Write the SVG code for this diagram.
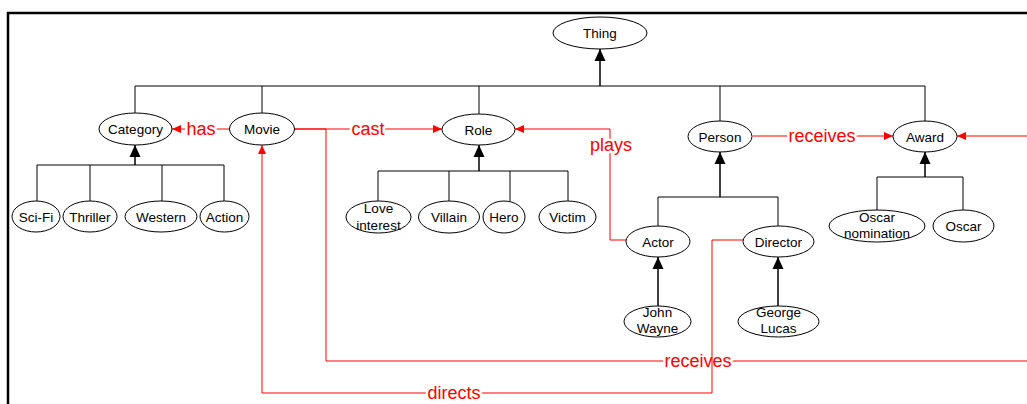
<svg xmlns="http://www.w3.org/2000/svg" width="1027" height="404" viewBox="0 0 1027 404">
<style>
.n ellipse{fill:#fff;stroke:#000;stroke-width:1}
.n text{font-family:"Liberation Sans",Arial,sans-serif;font-size:13.5px;fill:#000;text-anchor:middle}
.h{fill:none;stroke:#000;stroke-width:1}
.ha{fill:none;stroke:#000;stroke-width:1.5;marker-end:url(#ab)}
.r{fill:none;stroke:#f00;stroke-width:1;marker-end:url(#ar)}
.lbl{font-family:"Liberation Sans",Arial,sans-serif;font-size:18px;fill:#f00;text-anchor:middle;stroke:#fff;stroke-width:5;paint-order:stroke;stroke-linejoin:round}
</style>
<defs>
<marker id="ab" markerUnits="userSpaceOnUse" markerWidth="12" markerHeight="12" viewBox="0 0 12 12" refX="12" refY="6" orient="auto"><path d="M0,0.5 L12,6 L0,11.5 z" fill="#000"/></marker>
<marker id="ar" markerUnits="userSpaceOnUse" markerWidth="9" markerHeight="8" viewBox="0 0 9 8" refX="9" refY="4" orient="auto"><path d="M0,0 L9,4 L0,8 z" fill="#f00"/></marker>
</defs>
<rect x="8" y="13" width="1040" height="410" fill="none" stroke="#000" stroke-width="2.5"/>
<g id="connectors">
<path class="h" d="M135,113 V86 H925 V121 M262,86 V113 M479,86 V114 M720,86 V121"/>
<path class="ha" d="M600,86 V49"/>
<path class="h" d="M37,201 V165 H224 V201 M90,165 V201 M162,165 V201"/>
<path class="ha" d="M135,165 V145"/>
<path class="h" d="M378,201 V171 H568 V201 M449,171 V201 M510,171 V201"/>
<path class="ha" d="M479,171 V145"/>
<path class="h" d="M658,226 V197 H778 V226"/>
<path class="ha" d="M720,197 V152"/>
<path class="h" d="M877,210 V177 H963 V210"/>
<path class="ha" d="M925,177 V152"/>
<path class="ha" d="M658,306 V257"/>
<path class="ha" d="M778,306 V257"/>
<path class="r" d="M229,129 H172"/>
<text class="lbl" x="201" y="135">has</text>
<path class="r" d="M294,129 H442"/>
<text class="lbl" x="368" y="135">cast</text>
<path class="r" d="M294,129 H326 V361 H1040 V136 H957"/>
<text class="lbl" x="698" y="367">receives</text>
<path class="r" d="M626,240 H610 V129 H515"/>
<text class="lbl" x="611" y="151">plays</text>
<path class="r" d="M753,136 H893"/>
<text class="lbl" x="822" y="142">receives</text>
<path class="r" d="M743,240 H712 V393 H262 V145"/>
<text class="lbl" x="454" y="399">directs</text>
</g>
<g id="thing" class="n"><ellipse cx="600" cy="33" rx="47" ry="16"/><text x="600" y="38">Thing</text></g>
<g id="category" class="n"><ellipse cx="135.5" cy="129" rx="36.5" ry="16"/><text x="135.5" y="134">Category</text></g>
<g id="movie" class="n"><ellipse cx="262" cy="129" rx="32.5" ry="16"/><text x="262" y="134">Movie</text></g>
<g id="role" class="n"><ellipse cx="478.5" cy="129.5" rx="36.5" ry="15.5"/><text x="478.5" y="134.5">Role</text></g>
<g id="person" class="n"><ellipse cx="720" cy="136.5" rx="32" ry="15.5"/><text x="720" y="141.5">Person</text></g>
<g id="award" class="n"><ellipse cx="925" cy="136.5" rx="32" ry="15.5"/><text x="925" y="141.5">Award</text></g>
<g id="scifi" class="n"><ellipse cx="36" cy="216.5" rx="24" ry="15.5"/><text x="36" y="221.5">Sci-Fi</text></g>
<g id="thriller" class="n"><ellipse cx="90" cy="216.5" rx="27" ry="15.5"/><text x="90" y="221.5">Thriller</text></g>
<g id="western" class="n"><ellipse cx="161" cy="216.5" rx="36" ry="15.5"/><text x="161" y="221.5">Western</text></g>
<g id="action" class="n"><ellipse cx="224.5" cy="216.5" rx="24.5" ry="15.5"/><text x="224.5" y="221.5">Action</text></g>
<g id="loveinterest" class="n"><ellipse cx="378.5" cy="217" rx="32.5" ry="16"/><text x="378.5" y="213">Love</text><text x="378.5" y="230">interest</text></g>
<g id="villain" class="n"><ellipse cx="449" cy="217" rx="30.5" ry="16"/><text x="449" y="222">Villain</text></g>
<g id="hero" class="n"><ellipse cx="504" cy="217" rx="21" ry="16"/><text x="504" y="222">Hero</text></g>
<g id="victim" class="n"><ellipse cx="567.5" cy="217" rx="28.5" ry="16"/><text x="567.5" y="222">Victim</text></g>
<g id="actor" class="n"><ellipse cx="658" cy="241.5" rx="32" ry="15.5"/><text x="658" y="246.5">Actor</text></g>
<g id="director" class="n"><ellipse cx="778.5" cy="241.5" rx="35.5" ry="15.5"/><text x="778.5" y="246.5">Director</text></g>
<g id="johnwayne" class="n"><ellipse cx="657.5" cy="321.5" rx="33.5" ry="15.5"/><text x="657.5" y="317">John</text><text x="657.5" y="333">Wayne</text></g>
<g id="georgelucas" class="n"><ellipse cx="778.5" cy="321.5" rx="40.5" ry="15.5"/><text x="778.5" y="317">George</text><text x="778.5" y="333">Lucas</text></g>
<g id="oscarnomination" class="n"><ellipse cx="877" cy="226" rx="48" ry="16"/><text x="877" y="222">Oscar</text><text x="877" y="238">nomination</text></g>
<g id="oscar" class="n"><ellipse cx="963.5" cy="226" rx="30.5" ry="16"/><text x="963.5" y="231">Oscar</text></g>
</svg>
